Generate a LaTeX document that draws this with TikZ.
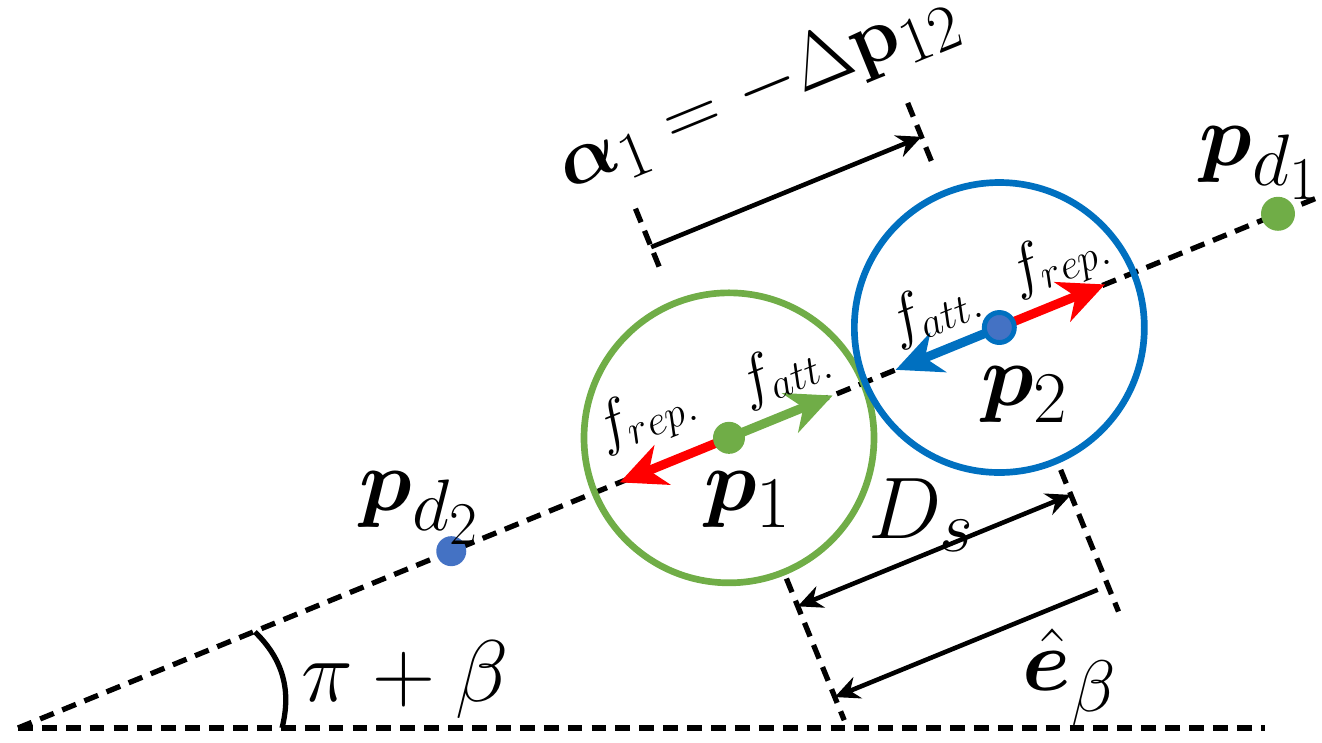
\documentclass[tikz,border=0pt]{standalone}
\usepackage{amsmath}
\usepackage{amssymb}
\usepackage{bm}
\usepackage{tikz}
\usetikzlibrary{arrows.meta,positioning}
\definecolor{mygreen}{RGB}{112,173,71}
\definecolor{myblue}{RGB}{0,112,192}
\definecolor{dotblue}{RGB}{68,114,196}

\begin{document}
\begin{tikzpicture}[
        dashline/.style={black, line width=1.5pt, dash pattern=on 4.2pt off 2.6pt},
        dimarrow/.style={black, line width=1.3pt, -{Stealth[length=7pt,width=6.5pt]}},
        force/.style={line width=2.6pt, -{Stealth[length=13pt,width=12pt,inset=4pt]}},
        agent/.style={circle, line width=1.9pt, minimum size=2.9cm, inner sep=0pt},
        dot/.style={circle, inner sep=0pt, minimum size=#1},
        lab/.style={font=\Huge},
        flab/.style={font=\LARGE, rotate=22.2, inner sep=1pt}]
        \useasboundingbox (0,0) rectangle (13.22,7.43);
        \coordinate (O) at (0.18,0.15);
        \coordinate (H) at (12.65,0.15);
        \draw[dashline] (O) -- (H);
        \begin{scope}[shift={(O)}, rotate=22.2]
            \coordinate (L) at (14.1,0);
            \coordinate (pd2) at (4.68,0);
            \coordinate (p1) at (7.68,0);
            \coordinate (p2) at (10.6,0);
            \coordinate (pd1) at (13.61,0);
            \draw[dashline] (O) -- (L);
            \node[agent, draw=mygreen] (C1) at (p1) {};
            \node[agent, draw=myblue] (C2) at (p2) {};
            % forces
            \coordinate (att1) at (8.8,0);
            \coordinate (rep1) at (6.5,0);
            \coordinate (att2) at (9.48,0);
            \coordinate (rep2) at (11.74,0);
            \draw[force, mygreen] (p1) -- (att1);
            \draw[force, red] (p1) -- (rep1);
            \draw[force, myblue] (p2) -- (att2);
            \draw[force, red] (p2) -- (rep2);
            % dots
            \node[dot=0.3cm, fill=dotblue] (Dd2) at (pd2) {};
            \node[dot=0.34cm, fill=mygreen] (Dd1) at (pd1) {};
            \node[dot=0.32cm, fill=mygreen] (D1) at (p1) {};
            \node[dot=0.3cm, fill=dotblue, draw=myblue, line width=1.4pt] (D2) at (p2) {};
            % dimension lines
            \coordinate (u1) at (7.68,1.85);
            \coordinate (u2) at (7.68,2.55);
            \coordinate (u3) at (10.6,1.8);
            \coordinate (u4) at (10.6,2.5);
            \coordinate (l1) at (7.68,-1.52);
            \coordinate (l2) at (7.68,-3.05);
            \coordinate (l3) at (10.63,-1.55);
            \coordinate (l4) at (10.63,-3.08);
            \draw[dashline] (u1) -- (u2);
            \draw[dashline] (u3) -- (u4);
            \draw[dashline] (l1) -- (l2);
            \draw[dashline] (l3) -- (l4);
            \coordinate (a0) at (7.68,2.06);
            \coordinate (a1) at (10.6,2.06);
            \coordinate (s0) at (7.68,-1.82);
            \coordinate (s1) at (10.63,-1.82);
            \coordinate (e0) at (10.52,-2.8);
            \coordinate (e1) at (7.68,-2.8);
            \draw[dimarrow] (a0) -- (a1);
            \draw[dimarrow, {Stealth[length=7pt,width=6.5pt]}-{Stealth[length=7pt,width=6.5pt]}] (s0) -- (s1);
            \draw[dimarrow] (e0) -- (e1);
        \end{scope}
        % angle
        \coordinate (b0) at (2.55,1.11);
        \coordinate (b1) at (2.82,0.15);
        \draw[black, line width=1.5pt] (b0) to[bend left=30] (b1);
        % labels
        \node[lab] (tb) at (4.05,0.63) {$\pi + \beta$};
        \node[lab] (tpd2) at (4.2,2.35) {$\boldsymbol{p}_{d_2}$};
        \node[lab] (tpd1) at (12.6,5.8) {$\boldsymbol{p}_{d_1}$};
        \node[lab] (tp1) at (7.48,2.43) {$\boldsymbol{p}_1$};
        \node[lab] (tp2) at (10.25,3.48) {$\boldsymbol{p}_2$};
        \node[lab] (tD) at (9.22,2.28) {$D_s$};
        \node[lab] (te) at (10.7,0.66) {$\hat{\boldsymbol{e}}_\beta$};
        \node[lab, rotate=22.2, scale=0.9, inner sep=0pt] (ta) at (7.58,6.52) {$\boldsymbol{\alpha}_1 = -\Delta\mathbf{p}_{12}$};
        \node[flab] (fr1) at (6.46,3.26) {$f_{rep.}$};
        \node[flab] (fa1) at (7.84,3.72) {$f_{att.}$};
        \node[flab] (fa2) at (9.34,4.33) {$f_{att.}$};
        \node[flab] (fr2) at (10.59,4.82) {$f_{rep.}$};
\end{tikzpicture}
\end{document}
